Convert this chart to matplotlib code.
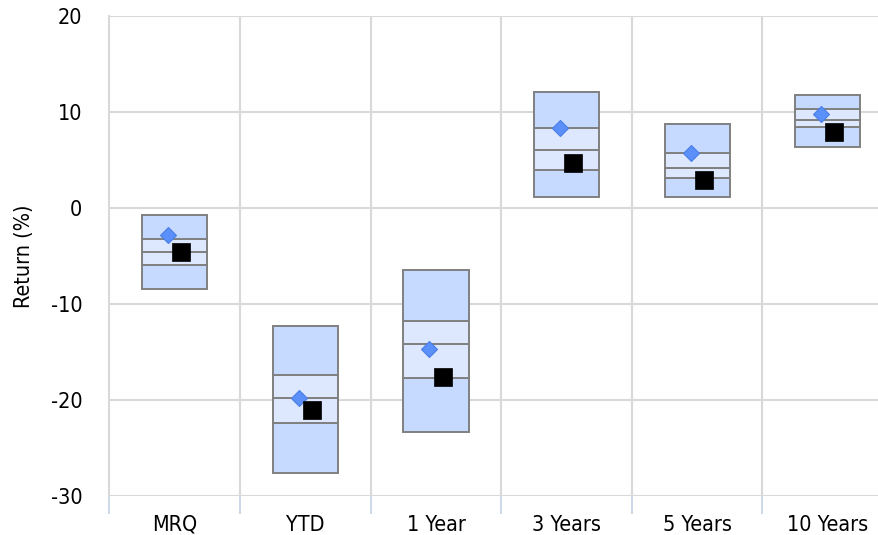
import matplotlib
matplotlib.use("Agg")
import matplotlib.pyplot as plt
import numpy as np

# Peer-group percentile ranges of returns (%) per period
periods = ["MRQ", "YTD", "1 Year", "3 Years", "5 Years", "10 Years"]
pct_05 = [-0.7, -12.3, -6.5, 12.1, 8.7, 11.8]
pct_25 = [-3.2, -17.4, -11.8, 8.3, 5.7, 10.3]
pct_50 = [-4.6, -19.8, -14.2, 6.0, 4.2, 9.2]
pct_75 = [-5.9, -22.4, -17.7, 4.0, 3.1, 8.4]
pct_95 = [-8.4, -27.6, -23.3, 1.1, 1.1, 6.4]
benchmark = [-2.8, -19.8, -14.7, 8.3, 5.7, 9.8]
fund = [-4.6, -21.0, -17.6, 4.7, 2.9, 7.9]
yticks = [-30, -20, -10, 0, 10, 20]

plt.rcParams["font.family"] = ["DejaVu Sans"]
plt.rcParams["font.stretch"] = "condensed"
FS = 15.5

W, H = 879, 535
fig = plt.figure(figsize=(W / 100, H / 100), dpi=100)
left_px, top_px, bottom_px = 109.5, 16, 496
cat_w = 130.6
ax = fig.add_axes([left_px / W, 1 - bottom_px / H,
                   len(periods) * cat_w / W, (bottom_px - top_px) / H])

x = np.arange(len(periods))
outer = "#c6d9fe"
inner = "#dde8fe"
edge = "#808080"
bw = 0.5

segments = [
    (pct_95, pct_75, outer),
    (pct_75, pct_50, inner),
    (pct_50, pct_25, inner),
    (pct_25, pct_05, outer),
]
for lo, hi, col in segments:
    lo = np.array(lo)
    hi = np.array(hi)
    ax.bar(x, hi - lo, bottom=lo, width=bw, color=col, edgecolor=edge,
           linewidth=1.4, zorder=3)

ax.plot(x - 0.05, benchmark, linestyle="none", marker="D", markersize=8.2,
        markerfacecolor="#5b8ff9", markeredgecolor="#4a7ee6",
        markeredgewidth=0.8, zorder=5)
ax.plot(x + 0.05, fund, linestyle="none", marker="s", markersize=12.6,
        markerfacecolor="black", markeredgecolor="black",
        markeredgewidth=0.5, zorder=6)

ax.set_xlim(-0.5, len(periods) - 0.5)
ax.set_ylim(-30, 20)
ax.set_yticks(yticks)
ax.set_yticklabels([str(v) for v in yticks])
ax.set_xticks(x)
ax.set_xticklabels(periods)
ax.set_xticks(np.arange(len(periods) + 1) - 0.5, minor=True)

ax.tick_params(axis="y", length=0, pad=19.5, labelsize=FS)
ax.tick_params(axis="x", which="major", length=0, pad=13.5, labelsize=FS)
ax.tick_params(axis="x", which="minor", length=13, width=1.3,
               color="#c8d5e6", direction="out")

ax.grid(axis="y", color="#d9d9d9", linewidth=1.5, zorder=0)
ax.grid(axis="x", which="minor", color="#d9d9d9", linewidth=1.5, zorder=0)
ax.set_axisbelow(True)
for s in ["top", "right", "bottom"]:
    ax.spines[s].set_visible(False)
ax.spines["left"].set_color("#d9d9d9")
ax.spines["left"].set_linewidth(1.5)

ax.set_ylabel("Return (%)", fontsize=FS, labelpad=12)

fig.savefig("out.png", dpi=100)
